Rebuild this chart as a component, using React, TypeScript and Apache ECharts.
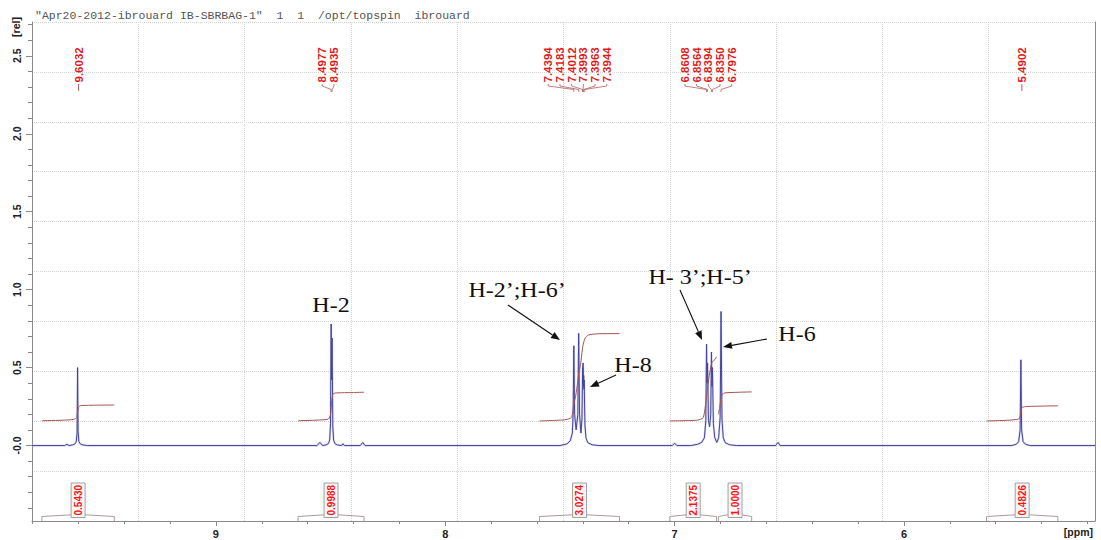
import React, { useEffect, useRef } from "react";
import * as echarts from "echarts";

// ---------- data ----------
const headerText = '"Apr20-2012-ibrouard IB-SBRBAG-1"  1  1  /opt/topspin  ibrouard';
const xAxisName = "[ppm]";
const yAxisName = "[rel]";

const ppmMax = 9.802;
const ppmMin = 5.167;
const relMin = -0.484;
const relMax = 2.717;

const xMinorTicks = [5.2, 5.4, 5.6, 5.8, 6.0, 6.2, 6.4, 6.6, 6.8, 7.0, 7.2, 7.4, 7.6, 7.8, 8.0, 8.2, 8.4, 8.6, 8.8, 9.0, 9.2, 9.4, 9.6, 9.8];
const xMajorTicks = [6, 7, 8, 9];
const yMinorTicks = [-0.4, -0.3, -0.2, -0.1, 0, 0.1, 0.2, 0.3, 0.4, 0.5, 0.6, 0.7, 0.8, 0.9, 1.0, 1.1, 1.2, 1.3, 1.4, 1.5, 1.6, 1.7, 1.8, 1.9, 2.0, 2.1, 2.2, 2.3, 2.4, 2.5, 2.6, 2.7];
const yMajorTicks = [0, 0.5, 1.0, 1.5, 2.0, 2.5];

// spectrum: [ppm, intensity]
const spectrum: [number, number][] = [
  [9.802, 0], [9.66, 0], [9.65, 0.008], [9.64, 0],
  [9.625, 0.004], [9.615, 0.01], [9.609, 0.025], [9.6055, 0.08], [9.6032, 0.5], [9.601, 0.09], [9.5975, 0.025], [9.591, 0.01], [9.58, 0.004], [9.56, 0],
  [8.56, 0], [8.546, 0.02], [8.535, 0],
  [8.52, 0.004], [8.51, 0.012], [8.504, 0.035], [8.5005, 0.14], [8.4977, 0.78], [8.4956, 0.42], [8.4935, 0.69], [8.4905, 0.13], [8.487, 0.035], [8.481, 0.012], [8.47, 0.004],
  [8.452, 0], [8.446, 0.012], [8.44, 0],
  [8.37, 0], [8.36, 0.02], [8.35, 0],
  [7.5, 0], [7.47, 0.01], [7.455, 0.03], [7.446, 0.08], [7.4425, 0.2], [7.4394, 0.64], [7.436, 0.2], [7.4295, 0.1], [7.422, 0.2], [7.4183, 0.72], [7.4145, 0.2], [7.4085, 0.08], [7.404, 0.17], [7.4012, 0.5], [7.4003, 0.4], [7.3993, 0.53], [7.3978, 0.38], [7.3963, 0.45], [7.3954, 0.36], [7.3944, 0.42], [7.391, 0.13], [7.386, 0.045], [7.378, 0.018], [7.36, 0.005], [7.33, 0],
  [7.01, 0], [7.0, 0.015], [6.99, 0],
  [6.93, 0], [6.9, 0.008], [6.882, 0.02], [6.87, 0.05], [6.864, 0.16], [6.8608, 0.65], [6.8586, 0.4], [6.8564, 0.53], [6.8525, 0.16], [6.8475, 0.12], [6.8425, 0.2], [6.8394, 0.6], [6.8372, 0.38], [6.835, 0.5], [6.831, 0.14], [6.825, 0.05], [6.816, 0.02], [6.808, 0.05], [6.8015, 0.18], [6.7976, 0.86], [6.7935, 0.17], [6.788, 0.05], [6.779, 0.018], [6.76, 0.005], [6.73, 0],
  [6.56, 0], [6.549, 0.02], [6.54, 0],
  [5.53, 0], [5.51, 0.008], [5.5, 0.025], [5.4935, 0.1], [5.4902, 0.55], [5.487, 0.1], [5.4805, 0.025], [5.47, 0.008], [5.45, 0],
  [5.167, 0],
];

// picked peaks (top labels), grouped as in the plot
const peakGroups: number[][] = [
  [9.6032],
  [8.4977, 8.4935],
  [7.4394, 7.4183, 7.4012, 7.3993, 7.3963, 7.3944],
  [6.8608, 6.8564, 6.8394, 6.835, 6.7976],
  [5.4902],
];

// integrals
const integralValues = ["0.5430", "0.9988", "3.0274", "2.1375", "1.0000", "0.4826"];
const integralRanges: [number, number][] = [
  [9.759, 9.443],
  [8.642, 8.354],
  [7.589, 7.24],
  [7.021, 6.817],
  [6.809, 6.664],
  [5.64, 5.329],
];
const integralCurves: [number, number][][] = [
  [[9.759, 0.159], [9.66, 0.163], [9.62, 0.168], [9.607, 0.18], [9.603, 0.22], [9.598, 0.248], [9.59, 0.256], [9.52, 0.259], [9.443, 0.26]],
  [[8.642, 0.159], [8.56, 0.163], [8.51, 0.17], [8.5, 0.2], [8.495, 0.29], [8.49, 0.33], [8.48, 0.337], [8.4, 0.34], [8.354, 0.342]],
  [[7.589, 0.158], [7.48, 0.165], [7.45, 0.18], [7.44, 0.26], [7.43, 0.33], [7.418, 0.46], [7.41, 0.52], [7.4, 0.64], [7.39, 0.69], [7.375, 0.71], [7.33, 0.717], [7.24, 0.718]],
  [[7.021, 0.158], [6.9, 0.163], [6.875, 0.18], [6.862, 0.3], [6.85, 0.44], [6.838, 0.53], [6.826, 0.55], [6.817, 0.57]],
  [[6.809, 0.2], [6.803, 0.25], [6.798, 0.3], [6.792, 0.33], [6.78, 0.338], [6.72, 0.342], [6.664, 0.344]],
  [[5.64, 0.158], [5.55, 0.162], [5.5, 0.17], [5.493, 0.19], [5.49, 0.22], [5.486, 0.243], [5.47, 0.25], [5.4, 0.253], [5.329, 0.255]],
];

// assignment annotations
const annotationTexts = ["H-2", "H-2\u2019;H-6\u2019", "H-8", "H- 3\u2019;H-5\u2019", "H-6"];
const annotationPos: [number, number][] = [[331, 305], [517, 290], [633, 365], [700, 277], [797, 334]];
const arrowSegments: [number, number, number, number][] = [
  [508, 305, 560, 340],
  [616, 375, 590, 387],
  [680, 290, 702, 340],
  [767, 339, 723, 347],
];

const SANS = '"Liberation Sans", Arial, sans-serif';

function arrow(x1: number, y1: number, x2: number, y2: number) {
  const ang = Math.atan2(y2 - y1, x2 - x1);
  const L = 9;
  const W = 3.5;
  const bx = x2 - L * Math.cos(ang);
  const by = y2 - L * Math.sin(ang);
  const nx = -Math.sin(ang);
  const ny = Math.cos(ang);
  return [
    { type: "line", silent: true, shape: { x1, y1, x2: bx, y2: by }, style: { stroke: "#111", lineWidth: 1.1 } },
    {
      type: "polygon",
      silent: true,
      shape: { points: [[x2, y2], [bx + nx * W, by + ny * W], [bx - nx * W, by - ny * W]] },
      style: { fill: "#111" },
    },
  ];
}

export default function App() {
  const ref = useRef<HTMLDivElement>(null);

  useEffect(() => {
    if (!ref.current) return;
    const chart = echarts.init(ref.current, undefined, { renderer: "svg" });
    const axisGray = "#8a8a8a";

    const option: any = {
      animation: false,
      backgroundColor: "#ffffff",
      grid: { left: 32, right: 6, top: 22, bottom: 19, containLabel: false },
      xAxis: [
        {
          type: "value",
          inverse: true,
          min: ppmMin,
          max: ppmMax,
          position: "bottom",
          axisLine: { show: true, onZero: false, lineStyle: { color: axisGray, width: 1 } },
          axisTick: { show: true, customValues: xMinorTicks, length: 3, lineStyle: { color: axisGray } },
          axisLabel: { show: false },
          splitLine: { show: false },
        },
        {
          type: "value",
          inverse: true,
          min: ppmMin,
          max: ppmMax,
          position: "bottom",
          axisLine: { show: false, onZero: false },
          axisTick: { show: true, customValues: xMajorTicks, length: 5, lineStyle: { color: axisGray } },
          axisLabel: {
            show: true,
            customValues: xMajorTicks,
            margin: 7,
            color: "#222",
            fontWeight: "bold",
            fontSize: 11,
            fontFamily: SANS,
            formatter: (v: number) => String(Math.round(v)),
          },
          splitLine: { show: false },
        },
        {
          type: "value",
          min: 0,
          max: 10,
          interval: 1,
          position: "top",
          axisLine: { show: false, onZero: false },
          axisTick: { show: false },
          axisLabel: { show: false },
          splitLine: { show: true, lineStyle: { color: "#d4d4d4", type: "dotted", width: 1 } },
        },
      ],
      yAxis: [
        {
          type: "value",
          min: relMin,
          max: relMax,
          position: "left",
          axisLine: { show: true, onZero: false, lineStyle: { color: axisGray, width: 1 } },
          axisTick: { show: true, customValues: yMinorTicks, length: 4, lineStyle: { color: axisGray } },
          axisLabel: { show: false },
          splitLine: { show: false },
        },
        {
          type: "value",
          min: relMin,
          max: relMax,
          position: "left",
          axisLine: { show: false, onZero: false },
          axisTick: { show: true, customValues: yMajorTicks, length: 6, lineStyle: { color: axisGray } },
          axisLabel: {
            show: true,
            customValues: yMajorTicks,
            rotate: 90,
            margin: 10,
            color: "#222",
            fontWeight: "bold",
            fontSize: 10.5,
            fontFamily: SANS,
            formatter: (v: number) => (Math.abs(v) < 1e-9 ? "-0.0" : v.toFixed(1)),
          },
          splitLine: { show: false },
        },
        {
          type: "value",
          min: 0,
          max: 10,
          interval: 1,
          position: "right",
          axisLine: { show: true, onZero: false, lineStyle: { color: axisGray, width: 1 } },
          axisTick: { show: false },
          axisLabel: { show: false },
          splitLine: { show: true, lineStyle: { color: "#d4d4d4", type: "dotted", width: 1 } },
        },
      ],
      series: [
        {
          type: "line",
          name: "halo",
          xAxisIndex: 0,
          yAxisIndex: 0,
          data: spectrum,
          showSymbol: false,
          silent: true,
          lineStyle: { color: "rgba(160,160,210,0.4)", width: 2.2 },
          z: 2,
        },
        {
          type: "line",
          name: "spectrum",
          xAxisIndex: 0,
          yAxisIndex: 0,
          data: spectrum,
          showSymbol: false,
          silent: true,
          lineStyle: { color: "#4444a0", width: 1 },
          z: 3,
        },
        ...integralCurves.map((c, i) => ({
          type: "line",
          name: "integral" + i,
          xAxisIndex: 0,
          yAxisIndex: 0,
          data: c,
          showSymbol: false,
          silent: true,
          smooth: 0.2,
          lineStyle: { color: "#a4524c", width: 1 },
          z: 4,
        })),
      ],
    };
    chart.setOption(option);

    const px = (ppm: number) => chart.convertToPixel({ xAxisIndex: 0 }, ppm) as number;
    const graphics: any[] = [];

    // header
    graphics.push({
      type: "text",
      x: 35,
      y: 15,
      silent: true,
      style: { text: headerText, font: '11.5px "Liberation Mono", "DejaVu Sans Mono", monospace', fill: "#555", textAlign: "left", textVerticalAlign: "middle" },
    });
    // axis names
    graphics.push({
      type: "text",
      x: 16,
      y: 27,
      rotation: Math.PI / 2,
      silent: true,
      style: { text: yAxisName, font: "bold 10.5px " + SANS, fill: "#222", textAlign: "center", textVerticalAlign: "middle" },
    });
    graphics.push({
      type: "text",
      x: 1093,
      y: 532,
      silent: true,
      style: { text: xAxisName, font: "bold 10.5px " + SANS, fill: "#222", textAlign: "right", textVerticalAlign: "middle" },
    });

    // peak labels
    peakGroups.forEach((group) => {
      const xs = group.map(px);
      const n = group.length;
      const mean = xs.reduce((a, b) => a + b, 0) / n;
      group.forEach((ppm, i) => {
        const lx = n === 1 ? xs[i] + 1 : mean - 3.5 + (i - (n - 1) / 2) * 11.7;
        graphics.push({
          type: "text",
          x: lx,
          y: 82.5,
          rotation: Math.PI / 2,
          silent: true,
          style: { text: ppm.toFixed(4), font: "bold 11.5px " + SANS, fill: "#e01b1b", textAlign: "left", textVerticalAlign: "middle" },
        });
        if (n === 1) {
          graphics.push({ type: "line", silent: true, shape: { x1: lx, y1: 84, x2: lx, y2: 91 }, style: { stroke: "#b06060", lineWidth: 1 } });
        } else {
          graphics.push({
            type: "polyline",
            silent: true,
            shape: { points: [[lx, 84], [lx, 86], [xs[i], 89.5], [xs[i], 92]] },
            style: { stroke: "#b06060", lineWidth: 0.8, fill: null },
          });
        }
      });
    });

    // integral brackets and labels
    integralRanges.forEach(([a, b], i) => {
      const x1 = px(a);
      const x2 = px(b);
      const cx = (x1 + x2) / 2;
      const bl = cx - 7;
      const br = cx + 7;
      graphics.push({
        type: "polyline",
        silent: true,
        shape: { points: [[x1, 521], [x1, 516.5], [bl, 514.8]] },
        style: { stroke: "#aa9c9c", lineWidth: 1, fill: null },
      });
      graphics.push({
        type: "polyline",
        silent: true,
        shape: { points: [[br, 514.8], [x2, 516.5], [x2, 521]] },
        style: { stroke: "#aa9c9c", lineWidth: 1, fill: null },
      });
      graphics.push({
        type: "rect",
        silent: true,
        shape: { x: bl, y: 483, width: 14, height: 34.5 },
        style: { fill: "#f6f6f6", stroke: "#a0a0a0", lineWidth: 1 },
      });
      graphics.push({
        type: "text",
        x: cx,
        y: 500.2,
        rotation: Math.PI / 2,
        silent: true,
        style: { text: integralValues[i], font: "bold 10px " + SANS, fill: "#ff1414", textAlign: "center", textVerticalAlign: "middle" },
      });
    });

    // annotations
    annotationTexts.forEach((t, i) => {
      graphics.push({
        type: "text",
        x: annotationPos[i][0],
        y: annotationPos[i][1],
        scaleX: 1.2,
        silent: true,
        style: { text: t, font: '20px "Liberation Serif", "Times New Roman", serif', fill: "#111", textAlign: "center", textVerticalAlign: "middle" },
      });
    });
    arrowSegments.forEach(([a, b, c, d]) => graphics.push(...arrow(a, b, c, d)));

    chart.setOption({ graphic: graphics });

    return () => chart.dispose();
  }, []);

  return <div ref={ref} style={{ position: "fixed", left: 0, top: 0, width: 1101, height: 540 }} />;
}
